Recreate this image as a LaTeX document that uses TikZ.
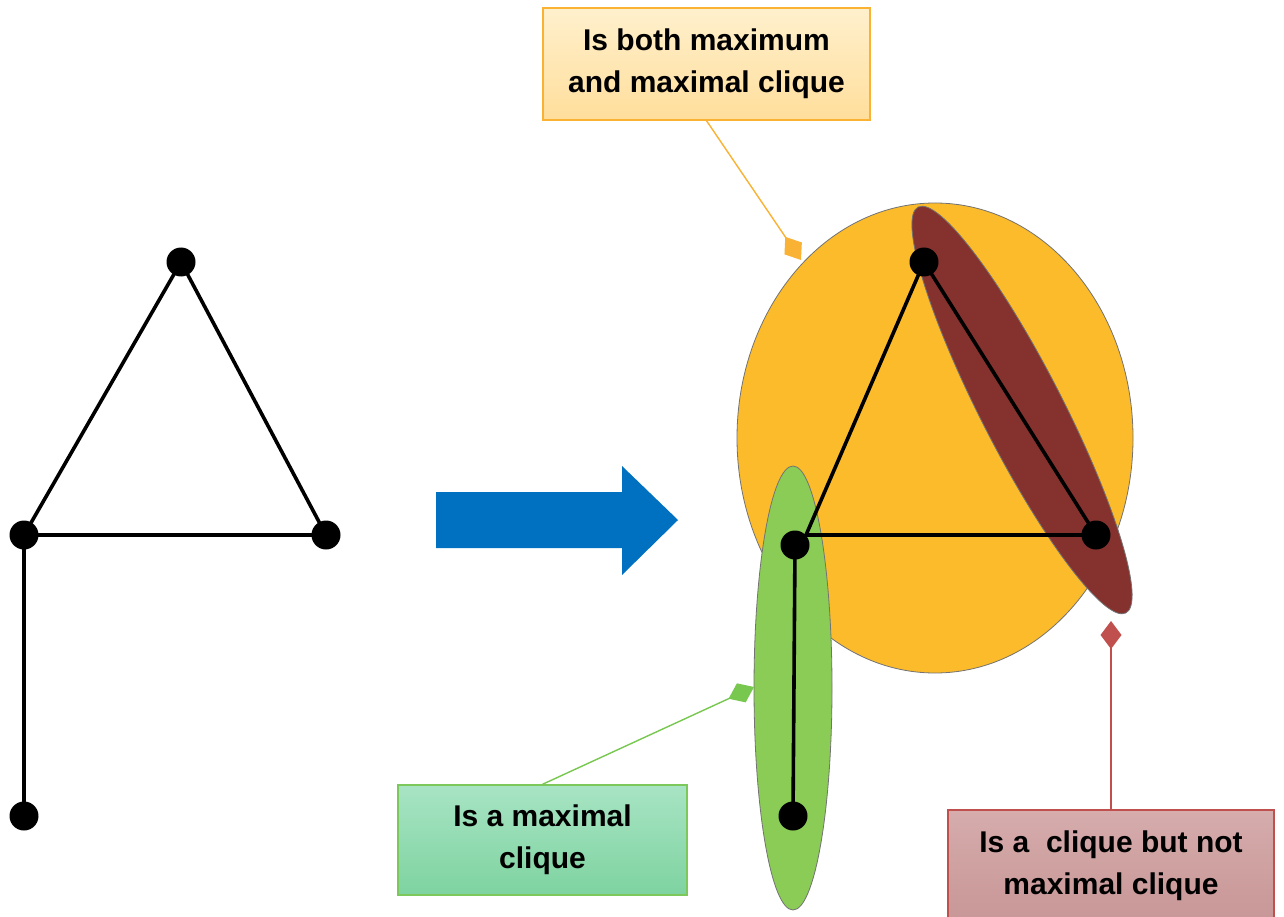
\documentclass[tikz,border=0pt]{standalone}
\usepackage{fontspec}
\setmainfont{Liberation Sans}
\usetikzlibrary{arrows.meta,shapes.geometric}
\definecolor{gold}{RGB}{251,187,42}
\definecolor{wine}{RGB}{133,50,47}
\definecolor{leaf}{RGB}{138,204,85}
\definecolor{arrowblue}{RGB}{0,112,192}
\definecolor{yborder}{RGB}{249,178,51}
\definecolor{gborder}{RGB}{124,200,90}
\definecolor{rborder}{RGB}{192,80,77}
\definecolor{gline}{RGB}{120,200,80}
\tikzset{
  dot/.style={circle,fill=black,inner sep=0pt,minimum size=29pt},
  edge/.style={line width=3.6pt,black},
  blob/.style={draw=black!55,line width=0.8pt},
  callout/.style={font=\bfseries\fontsize{30}{42}\selectfont,align=center,line width=1.4pt,inner sep=0pt},
  pointer/.style={line width=1.4pt,-{Diamond[length=28pt,width=21pt]}}
}
\begin{document}
\begin{tikzpicture}[x=1pt,y=-1pt]
\clip (0,0) rectangle (1284,917);
\fill[white] (0,0) rectangle (1284,917);
% left graph
\node[dot] (a1) at (181,262) {};
\node[dot] (a2) at (24,535) {};
\node[dot] (a3) at (326,535) {};
\node[dot] (a4) at (24,816) {};
\draw[edge] (a1.center) -- (a2.center) -- (a3.center) -- cycle;
\draw[edge] (a2.center) -- (a4.center);
% big blue arrow
\fill[arrowblue] (436,492) -- (622,492) -- (622,466) -- (678,520) -- (622,575) -- (622,548) -- (436,548) -- cycle;
% ellipses
\draw[blob,fill=gold] (935,438) ellipse (198 and 235);
\draw[blob,fill=wine,rotate around={-62.9:(1022,410)}] (1022,410) ellipse (228 and 41);
\draw[blob,fill=leaf] (793,688) ellipse (39 and 222);
% right graph
\node[dot] (b1) at (924,262) {};
\node[dot] (b2) at (795,545) {};
\node[dot] (b3) at (1096,535) {};
\node[dot] (b4) at (793,816) {};
\coordinate (bc) at (806,535);
\draw[edge] (b1.center) -- (bc) -- (b3.center) -- cycle;
\draw[edge] (b2.center) -- (b4.center);
% callouts
\node[callout,draw=yborder,top color={rgb,255:red,255;green,240;blue,205},bottom color={rgb,255:red,255;green,222;blue,155},minimum width=327pt,minimum height=112pt] (t1) at (706.5,64) {Is both maximum\\and maximal clique};
\node[callout,draw=gborder,top color={rgb,255:red,168;green,228;blue,196},bottom color={rgb,255:red,126;green,211;blue,160},minimum width=289pt,minimum height=110pt] (t2) at (542.5,840) {Is a maximal\\clique};
\node[callout,draw=rborder,top color={rgb,255:red,214;green,172;blue,172},bottom color={rgb,255:red,200;green,150;blue,150},minimum width=326pt,minimum height=112pt] (t3) at (1111,866) {Is a \ clique but not\\maximal clique};
\coordinate (p1) at (801,260);
\coordinate (p2) at (754,687);
\coordinate (p3) at (1111,621);
\draw[pointer,yborder,fill=yborder] (t1.south) -- (p1);
\draw[pointer,gline,fill=gline] (t2.north) -- (p2);
\draw[pointer,rborder,fill=rborder] (t3.north) -- (p3);
\end{tikzpicture}
\end{document}
